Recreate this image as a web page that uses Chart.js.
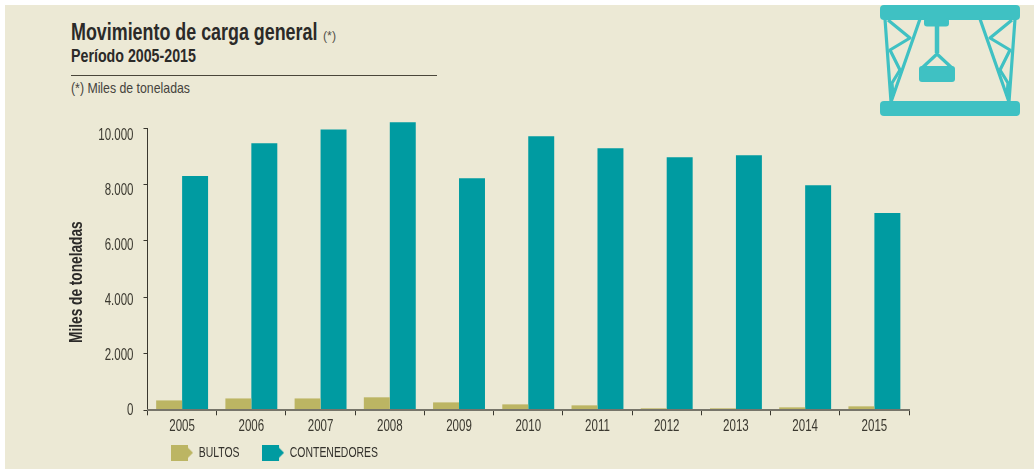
<!DOCTYPE html>
<html><head><meta charset="utf-8">
<script src="https://cdn.jsdelivr.net/npm/chart.js@4"></script>
<style>
html,body{margin:0;padding:0;background:#fff;width:1034px;height:469px;overflow:hidden}
#panel{position:absolute;left:5px;top:5px;width:1029px;height:464px;background:#ece9d5}
#wrap{position:absolute;left:0;top:0;width:1034px;height:469px;overflow:hidden}
.t{position:absolute;white-space:nowrap;font-family:"Liberation Sans",sans-serif;color:#2b2a28;line-height:1;transform-origin:0 0}
#rule{position:absolute;left:71px;top:74.5px;width:366px;height:1px;background:#4a463a}
#crane{position:absolute;left:880px;top:5px}
</style></head><body>
<div id="panel"></div>
<div class="t" style="left:71px;top:20px;font-size:24px;font-weight:700;transform:scaleX(.745)">Movimiento de carga general</div>
<div class="t" style="left:323px;top:29px;font-size:13px;color:#55534c;transform:scaleX(.95)">(*)</div>
<div class="t" style="left:71px;top:47px;font-size:18px;font-weight:700;transform:scaleX(.79)">Período 2005-2015</div>
<div id="rule"></div>
<div class="t" style="left:71px;top:80px;font-size:15px;color:#45433c;transform:scaleX(.82)">(*) Miles de toneladas</div>
<svg id="crane" width="142" height="112" viewBox="880 5 142 112">
<g fill="#3fc1c3">
<rect x="880" y="5" width="140" height="15" rx="4"/>
<rect x="880" y="101" width="140" height="15" rx="4"/>
<rect x="924" y="18" width="25" height="8.5" rx="3"/>
<rect x="919" y="66" width="36" height="16" rx="3"/>
</g>
<g fill="none" stroke="#3fc1c3" stroke-width="3.2" stroke-linejoin="round">
<path d="M885 19 L891 102 L920 19"/>
<path d="M1015 19 L1009 102 L980 19"/>
<path d="M888 20 L910 38 L890 50 L900 70 L892 83 L893 96"/>
<path d="M1012 20 L990 38 L1010 50 L1000 70 L1008 83 L1007 96"/>
<path d="M937 25 L937 53" stroke-width="4.5"/>
<path d="M922 68 L937 54 L952 68"/>
</g>
</svg>
<div id="wrap"><canvas id="c" width="1034" height="510"></canvas></div>
<script>
const categories=["2005","2006","2007","2008","2009","2010","2011","2012","2013","2014","2015"];
const bultos=[350,420,420,460,280,210,175,70,70,105,140];
const contenedores=[8300,9460,9950,10200,8220,9710,9280,8965,9035,7975,6985];
const yTicks=[0,2000,4000,6000,8000,10000];
const seriesNames=["BULTOS","CONTENEDORES"];
const axisTitle='Miles de toneladas';
const colors=["#bcb563","#009ba1"];
const fontFamily='"Liberation Sans",sans-serif';
const NARROW=.72;

const canvas=document.getElementById('c');
const ctx=canvas.getContext('2d');
const rawFill=ctx.fillText.bind(ctx), rawMeasure=ctx.measureText.bind(ctx);
ctx.fillText=function(text,x,y){
  ctx.save();ctx.translate(x,y);
  if(text===axisTitle)ctx.translate(-13,0);
  ctx.scale(NARROW,1);rawFill(text,0,0);ctx.restore();
};
ctx.measureText=function(text){const m=rawMeasure(text);return {width:m.width*NARROW,actualBoundingBoxAscent:m.actualBoundingBoxAscent,actualBoundingBoxDescent:m.actualBoundingBoxDescent};};

function swatch(col){
  const c=document.createElement('canvas');c.width=22;c.height=16;
  const x=c.getContext('2d');x.fillStyle=col;x.fillRect(0,0,17,16);
  x.beginPath();x.moveTo(17,3);x.lineTo(22,8);x.lineTo(17,13);x.fill();
  return c;
}
const fmt=v=>String(v).replace(/\B(?=(\d{3})+$)/g,'.');
const place={id:'place',
  afterLayout(ch){ch.legend.left=148.5;ch.legend.top=421.5;},
  beforeDraw(ch){
    const s=ch.scales.y;
    s.getLabelItems().forEach((it,i)=>{
      if(it._nudged)return;it._nudged=true;
      const v=s.ticks[i].value;
      it.options.translation=[it.options.translation[0],it.options.translation[1]+v*7.5/10000];
    });
  }};
new Chart(canvas,{
  type:'bar',
  data:{labels:categories,datasets:[
    {label:seriesNames[0],data:bultos,backgroundColor:colors[0],barPercentage:1,categoryPercentage:.75,clip:false},
    {label:seriesNames[1],data:contenedores,backgroundColor:colors[1],barPercentage:1,categoryPercentage:.75,clip:false}
  ]},
  plugins:[place],
  options:{
    responsive:false,animation:false,devicePixelRatio:1,
    layout:{padding:{left:65,right:125,top:128,bottom:23}},
    plugins:{
      title:{display:false},tooltip:{enabled:false},
      legend:{position:'bottom',align:'start',labels:{
        usePointStyle:true,pointStyleWidth:19,boxHeight:15,padding:24,
        font:{family:fontFamily,size:14.5},color:'#33312c',
        generateLabels:()=>seriesNames.map((n,i)=>({text:n,pointStyle:swatch(colors[i]),fillStyle:colors[i],strokeStyle:colors[i],lineWidth:0,datasetIndex:i,fontColor:'#33312c'}))
      }}
    },
    scales:{
      x:{grid:{display:true,drawOnChartArea:false,drawTicks:true,tickLength:5,color:'#3a382f',tickWidth:1},
         border:{color:'#77756a',width:2,z:1},
         ticks:{font:{family:fontFamily,size:16},color:'#3a382f',padding:2,maxRotation:0}},
      y:{min:0,max:10000,afterBuildTicks(a){a.ticks=yTicks.map(v=>({value:v}));},
         afterFit(s){s.width=82.5;},
         grid:{display:true,drawOnChartArea:false,tickLength:4,color:'#3a382f'},
         border:{color:'#3a382f',width:1},
         ticks:{font:{family:fontFamily,size:16},color:'#3a382f',padding:10,callback:v=>fmt(v)},
         title:{display:true,text:axisTitle,font:{family:fontFamily,size:19,weight:'bold'},color:'#2b2a28',padding:{top:0,bottom:0}}}
    }
  }
});
</script>
</body></html>
